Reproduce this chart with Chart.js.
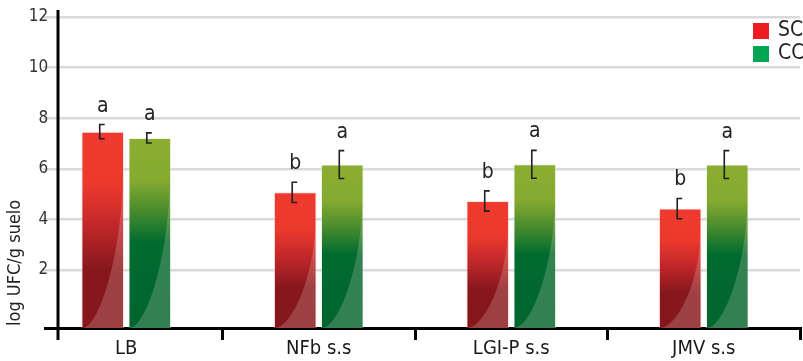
<!DOCTYPE html>
<html>
<head>
<meta charset="utf-8">
<script src="https://cdn.jsdelivr.net/npm/chart.js@4.4.1/dist/chart.umd.min.js"></script>
<style>
  html, body { margin: 0; padding: 0; background: #fff; overflow: hidden; }
  #wrap { position: relative; width: 870px; height: 361px; }
</style>
</head>
<body>
<div id="wrap"><canvas id="grafico"></canvas></div>
<script>
// Datos del gráfico
const categorias = ['LB', 'NFb s.s', 'LGI-P s.s', 'JMV s.s'];
const nombresSeries = ['SC', 'CC'];
const valoresSC = [7.47, 5.07, 4.73, 4.43];
const valoresCC = [7.22, 6.17, 6.18, 6.17];
const errorSC = [0.28, 0.40, 0.40, 0.40];
const errorCC = [0.20, 0.55, 0.55, 0.55];
const letrasSC = ['a', 'b', 'b', 'b'];
const letrasCC = ['a', 'a', 'a', 'a'];
const ticksY = [2, 4, 6, 8, 10, 12];
const tituloY = 'log UFC/g suelo';

const yMin = -0.29;
const yMax = 12;
const ejeYEn = -0.3545; // posición del eje Y sobre la escala de categorías

const FUENTE = "'Liberation Sans Narrow', 'DejaVu Sans Condensed', 'Liberation Sans', sans-serif";
const coloresLeyenda = ['#ed1c24', '#00a651'];
const paradasRojo = [[0, '#ef3b2f'], [0.27, '#ec392d'], [0.48, '#c0272a'], [0.70, '#87171d'], [1, '#84161c']];
const paradasVerde = [[0, '#8bad31'], [0.22, '#85aa30'], [0.38, '#4a8c2e'], [0.55, '#006b2f'], [1, '#00652f']];

const canvas = document.getElementById('grafico');
const ANCHO = 870;

// color que empieza a verse a partir de x0 (recorta líneas a la izquierda)
function desdeX(color, x0) {
    const g = canvas.getContext('2d').createLinearGradient(0, 0, ANCHO, 0);
    g.addColorStop(0, 'rgba(255,255,255,0)');
    g.addColorStop(x0 / ANCHO, 'rgba(255,255,255,0)');
    g.addColorStop(x0 / ANCHO + 0.0001, color);
    g.addColorStop(1, color);
    return g;
}
const colorGrilla = desdeX('#d9d9d9', 43);
const colorBase = desdeX('#000', 44);

// degradado vertical por barra
function degradado(ctx, paradas) {
    const chart = ctx.chart;
    if (!chart.chartArea || ctx.type !== 'data') return paradas[0][1];
    const y = chart.scales.y;
    const top = y.getPixelForValue(ctx.raw);
    const bottom = y.getPixelForValue(yMin);
    const g = chart.ctx.createLinearGradient(0, top, 0, bottom);
    paradas.forEach(p => g.addColorStop(p[0], p[1]));
    return g;
}

// brillo curvo, barras de error y letras
const decoracion = {
    id: 'decoracion',
    afterDatasetsDraw(chart) {
        const c = chart.ctx;
        const y = chart.scales.y;
        const errores = [errorSC, errorCC];
        const valores = [valoresSC, valoresCC];
        const letras = [letrasSC, letrasCC];

        chart.data.datasets.forEach((ds, i) => {
            chart.getDatasetMeta(i).data.forEach((bar, j) => {
                const L = bar.x - bar.width / 2, R = bar.x + bar.width / 2;
                const B = bar.base, T = bar.y;
                const H = (B - T) * 0.8;
                const W = R - L;

                c.save();
                c.beginPath();
                c.moveTo(L + 1, B);
                c.bezierCurveTo(L + 0.4 * W, B, R - 0.05 * W, B - 0.45 * H, R - 1, B - H);
                c.lineTo(R - 1, B);
                c.closePath();
                c.fillStyle = 'rgba(255,235,225,0.2)';
                c.fill();
                c.restore();

                // barra de error tipo "["
                const v = valores[i][j], e = errores[i][j];
                const yTop = y.getPixelForValue(v + e);
                const yBot = y.getPixelForValue(v - e);
                const x0 = bar.x - 3;
                c.save();
                c.strokeStyle = '#231f20';
                c.lineWidth = 1.6;
                c.beginPath();
                c.moveTo(x0 + 5, yTop);
                c.lineTo(x0, yTop);
                c.lineTo(x0, yBot);
                c.lineTo(x0 + 5, yBot);
                c.stroke();

                // letra de significancia
                c.fillStyle = '#231f20';
                c.font = '21px ' + FUENTE;
                c.textAlign = 'center';
                c.textBaseline = 'alphabetic';
                c.fillText(letras[i][j], bar.x, yTop - 13);
                c.restore();
            });
        });
    },
    afterDraw(chart) {
        const c = chart.ctx;
        const area = chart.chartArea;
        const xEje = chart.scales.x.getPixelForValue(ejeYEn);

        c.save();
        // eje Y
        c.strokeStyle = '#000';
        c.lineWidth = 3;
        c.beginPath();
        c.moveTo(xEje, 10);
        c.lineTo(xEje, area.bottom + 12);
        c.stroke();

        // título del eje Y
        c.translate(15, area.bottom - 2);
        c.rotate(-Math.PI / 2);
        c.fillStyle = '#231f20';
        c.font = '18px ' + FUENTE;
        c.textAlign = 'left';
        c.textBaseline = 'middle';
        c.fillText(tituloY, 0, 0);
        c.restore();

        // leyenda
        c.save();
        c.font = '21px ' + FUENTE;
        c.textBaseline = 'middle';
        c.textAlign = 'left';
        nombresSeries.forEach((n, i) => {
            const lx = area.right - 47;
            const ly = 23 + i * 23;
            c.fillStyle = coloresLeyenda[i];
            c.fillRect(lx, ly, 16, 16);
            c.fillStyle = '#231f20';
            c.fillText(n, lx + 25, ly + 8);
        });
        c.restore();
    }
};

new Chart(canvas, {
    type: 'bar',
    data: {
        labels: categorias,
        datasets: [
            {
                label: nombresSeries[0],
                data: valoresSC,
                base: yMin,
                backgroundColor: ctx => degradado(ctx, paradasRojo),
                borderColor: 'rgba(255,200,190,0.45)',
                borderWidth: 1,
                borderSkipped: 'bottom',
                categoryPercentage: 0.489,
                barPercentage: 0.906
            },
            {
                label: nombresSeries[1],
                data: valoresCC,
                base: yMin,
                backgroundColor: ctx => degradado(ctx, paradasVerde),
                borderColor: 'rgba(220,240,200,0.45)',
                borderWidth: 1,
                borderSkipped: 'bottom',
                categoryPercentage: 0.489,
                barPercentage: 0.906
            }
        ]
    },
    options: {
        responsive: true,
        maintainAspectRatio: false,
        animation: false,
        layout: { padding: { left: 30, top: 17, right: 70, bottom: 0 } },
        plugins: {
            legend: { display: false },
            tooltip: { enabled: false }
        },
        scales: {
            x: {
                offset: true,
                border: { display: true, color: colorBase, width: 3 },
                grid: {
                    offset: true,
                    drawOnChartArea: false,
                    drawTicks: true,
                    tickLength: 12,
                    lineWidth: 3,
                    color: ctx => (ctx.index === 0 || ctx.index === categorias.length) ? 'rgba(0,0,0,0)' : '#000'
                },
                ticks: {
                    color: '#1a1a1a',
                    font: { family: FUENTE, size: 20 },
                    padding: -3
                },
                afterFit: s => { s.height = 33; }
            },
            y: {
                position: { x: ejeYEn },
                min: yMin,
                max: yMax,
                afterBuildTicks: s => { s.ticks = ticksY.map(v => ({ value: v })); },
                border: { display: false },
                grid: { color: colorGrilla, lineWidth: 2.5, drawTicks: false },
                ticks: {
                    color: '#333',
                    font: { family: FUENTE, size: 17 },
                    // con posición por valor no se aplica el padding: se añade espacio al texto
                    callback: v => v + '  '
                }
            }
        }
    },
    plugins: [decoracion]
});
</script>
</body>
</html>
